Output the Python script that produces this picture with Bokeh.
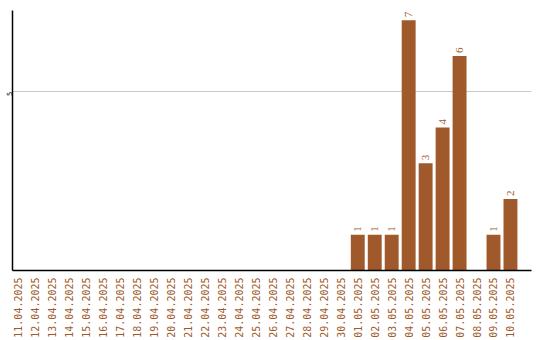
import math
from bokeh.plotting import figure
from bokeh.models import ColumnDataSource, Range1d, FixedTicker, LabelSet
from bokeh.embed import file_html
from bokeh.resources import INLINE

dates = ["11.04.2025", "12.04.2025", "13.04.2025", "14.04.2025", "15.04.2025",
         "16.04.2025", "17.04.2025", "18.04.2025", "19.04.2025", "20.04.2025",
         "21.04.2025", "22.04.2025", "23.04.2025", "24.04.2025", "25.04.2025",
         "26.04.2025", "27.04.2025", "28.04.2025", "29.04.2025", "30.04.2025",
         "01.05.2025", "02.05.2025", "03.05.2025", "04.05.2025", "05.05.2025",
         "06.05.2025", "07.05.2025", "08.05.2025", "09.05.2025", "10.05.2025"]
counts = [0, 0, 0, 0, 0, 0, 0, 0, 0, 0,
          0, 0, 0, 0, 0, 0, 0, 0, 0, 0,
          1, 1, 1, 7, 3, 4, 6, 0, 1, 2]
y_ticks = [5]

COLOR = "#a0592a"
FONT = "DejaVu Sans Mono"

idx = list(range(len(dates)))
src = ColumnDataSource(dict(x=idx, y=counts))
lab_x = [i for i, c in zip(idx, counts) if c > 0]
lab_y = [c for c in counts if c > 0]
lab_src = ColumnDataSource(dict(x=lab_x, y=lab_y, t=[str(c) for c in lab_y]))

p = figure(width=540, height=340, output_backend="svg", toolbar_location=None,
           x_range=Range1d(-0.35, 30.24), y_range=Range1d(0, 7.27),
           min_border_left=0, min_border_top=10, min_border_right=9,
           min_border_bottom=0)
p.outline_line_color = None
p.background_fill_color = "white"
p.border_fill_color = "white"

p.vbar(x="x", top="y", width=0.82, source=src, fill_color=COLOR,
       line_color=None)

labels = LabelSet(x="x", y="y", text="t", source=lab_src, angle=math.pi / 2,
                  text_align="left", text_baseline="middle", y_offset=3,
                  text_color=COLOR, text_font=FONT, text_font_size="11px")
p.add_layout(labels)

p.xaxis.ticker = FixedTicker(ticks=idx)
p.xaxis.major_label_overrides = {i: d for i, d in zip(idx, dates)}
p.xaxis.major_label_orientation = math.pi / 2
p.xaxis.major_label_text_color = COLOR
p.xaxis.major_label_text_font = FONT
p.xaxis.major_label_text_font_size = "10px"
p.xaxis.major_tick_line_color = None
p.xaxis.minor_tick_line_color = None
p.xaxis.major_tick_out = 0
p.xaxis.major_tick_in = 0
p.xaxis.minor_tick_out = 0
p.xaxis.major_label_standoff = 7
p.xaxis.axis_line_color = "black"
p.xaxis.axis_line_width = 1.5

p.yaxis.ticker = FixedTicker(ticks=y_ticks)
p.yaxis.major_label_orientation = math.pi / 2
p.yaxis.major_label_text_color = "black"
p.yaxis.major_label_text_font = FONT
p.yaxis.major_label_text_font_size = "7px"
p.yaxis.major_tick_line_color = None
p.yaxis.minor_tick_line_color = None
p.yaxis.major_tick_out = 0
p.yaxis.major_tick_in = 0
p.yaxis.minor_tick_out = 0
p.yaxis.major_label_standoff = 3
p.yaxis.axis_line_color = "black"
p.yaxis.axis_line_width = 1.5

p.xgrid.grid_line_color = None
p.ygrid.ticker = FixedTicker(ticks=y_ticks)
p.ygrid.grid_line_color = "#c8c8c8"
p.ygrid.grid_line_width = 1

open("out.html", "w").write(file_html(p, INLINE))
